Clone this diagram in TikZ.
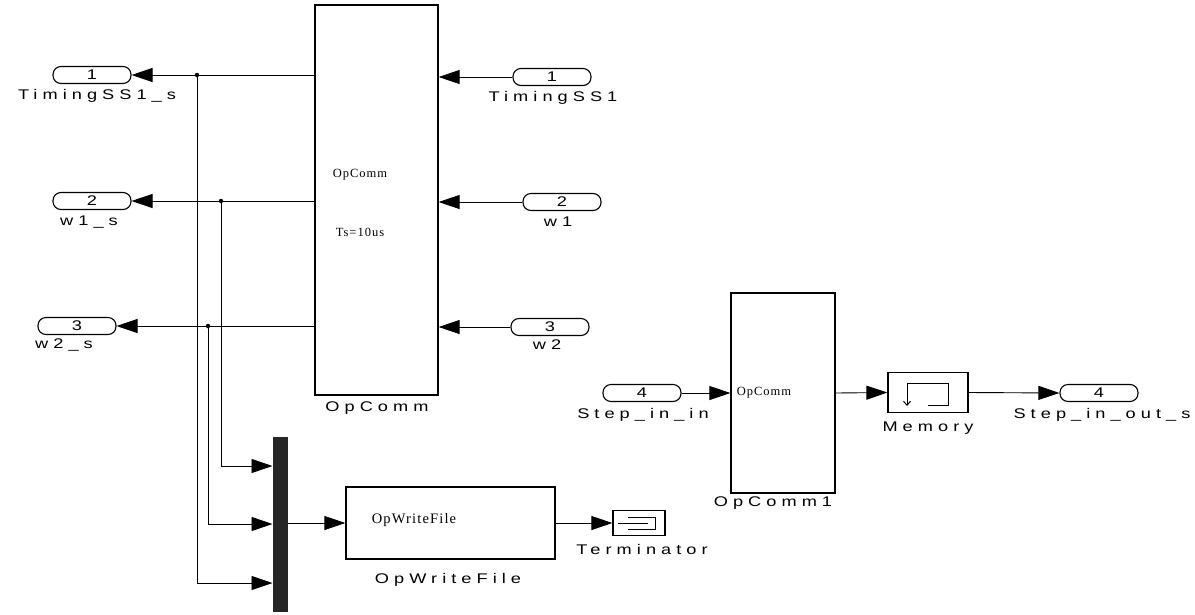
\documentclass[tikz,border=0pt]{standalone}
\usepackage{fontspec}
\setmainfont{Liberation Serif}
\newfontfamily\labf[LetterSpace=36,FakeStretch=1.3]{Liberation Sans}
\newfontfamily\inserif[LetterSpace=8]{Liberation Serif}
\usetikzlibrary{arrows.meta}
\begin{document}
\begin{tikzpicture}[x=1pt,y=-1pt,
  port/.style={draw, rounded corners=8pt, minimum width=78pt, minimum height=17pt, inner sep=0pt, line width=1.1pt, font=\labf\fontsize{14}{14}\selectfont},
  blk/.style={draw, line width=1.2pt, inner sep=0pt},
  lab/.style={inner sep=0pt, font=\labf\fontsize{14}{14}\selectfont},
  itxt/.style={inner sep=0pt, font=\inserif\fontsize{12.5}{12.5}\selectfont},
  sig/.style={line width=0.9pt, -{Triangle[length=21pt,width=14pt]}},
  jdot/.style={fill, circle, inner sep=0pt, minimum size=4.5pt}]
\useasboundingbox (0,0) rectangle (1195,614);

% main OpComm block
\node[blk, minimum width=123pt, minimum height=390pt] (opc) at (376.5,200) {};
\node[itxt] (opct1) at (360,175) {OpComm};
\node[itxt] (opct2) at (360,232) {Ts=10us};
\node[lab] (opcl) at (377,408) {OpComm};

% right-side inports
\node[port] (i1) at (552,77) {1};
\node[lab] (i1l) at (553,98) {TimingSS1};
\node[port] (i2) at (562,202) {2};
\node[lab] (i2l) at (558,222) {w1};
\node[port] (i3) at (550,327) {3};
\node[lab] (i3l) at (547,345) {w2};
\draw[sig] (i1.west) -- (i1.west -| opc.east);
\draw[sig] (i2.west) -- (i2.west -| opc.east);
\draw[sig] (i3.west) -- (i3.west -| opc.east);

% left-side outports
\node[port] (o1) at (92,75) {1};
\node[lab] (o1l) at (97,96) {TimingSS1\_s};
\node[port] (o2) at (92,201) {2};
\node[lab] (o2l) at (89,222) {w1\_s};
\node[port] (o3) at (77,326) {3};
\node[lab] (o3l) at (64,345) {w2\_s};
\draw[sig] (o1.east -| opc.west) -- (o1.east);
\draw[sig] (o2.east -| opc.west) -- (o2.east);
\draw[sig] (o3.east -| opc.west) -- (o3.east);

% junctions
\coordinate (j1) at (197,75);
\coordinate (j2) at (221,201);
\coordinate (j3) at (208,326);
\node[jdot] (d1) at (j1) {};
\node[jdot] (d2) at (j2) {};
\node[jdot] (d3) at (j3) {};

% mux
\node[fill=black!85, minimum width=15pt, minimum height=175pt, inner sep=0pt] (mux) at (280,524.5) {};
\coordinate (m1) at (272.5,466);
\coordinate (m2) at (272.5,524);
\coordinate (m3) at (272.5,583);
\draw[sig] (j2) |- (m1);
\draw[sig] (j3) |- (m2);
\draw[sig] (j1) |- (m3);

% OpWriteFile
\node[blk, minimum width=209pt, minimum height=72pt] (owf) at (450.5,523) {};
\node[inner sep=0pt, font=\inserif\fontsize{14.5}{14.5}\selectfont] (owft) at (414,520) {OpWriteFile};
\node[lab] (owfl) at (448,580) {OpWriteFile};
\draw[sig] (mux.east |- owf.west) -- (owf.west);

% Terminator
\node[blk, minimum width=52pt, minimum height=25pt] (term) at (639,523) {};
\draw[line width=0.9pt] (628,517) -- (655,517) -- (655,529) -- (628,529);
\draw[line width=0.9pt] (618,523) -- (648,523);
\node[lab] (terml) at (642,549) {Terminator};
\draw[sig] (owf.east) -- (term.west);

% OpComm1
\node[blk, minimum width=104pt, minimum height=200pt] (opc1) at (783,393) {};
\node[itxt] (opc1t) at (764,393) {OpComm};
\node[lab] (opc1l) at (773,503) {OpComm1};
\node[port] (i4) at (642,393) {4};
\node[lab] (i4l) at (643,415) {Step\_in\_in};
\draw[sig] (i4.east) -- (opc1.west);

% Memory
\node[blk, minimum width=80pt, minimum height=40pt] (mem) at (928,392.5) {};
\draw[line width=1pt] (928,405) -- (948,405) -- (948,383) -- (907,383);
\draw[line width=1pt, -{Straight Barb[length=4pt,width=7pt]}] (907,383) -- (907,406);
\node[lab] (meml) at (928,428) {Memory};
\draw[sig] (opc1.east) -- (mem.west);

% outport 4
\node[port] (o4) at (1099,393) {4};
\node[lab] (o4l) at (1102,415) {Step\_in\_out\_s};
\draw[sig] (mem.east) -- (o4.west);
\end{tikzpicture}
\end{document}
